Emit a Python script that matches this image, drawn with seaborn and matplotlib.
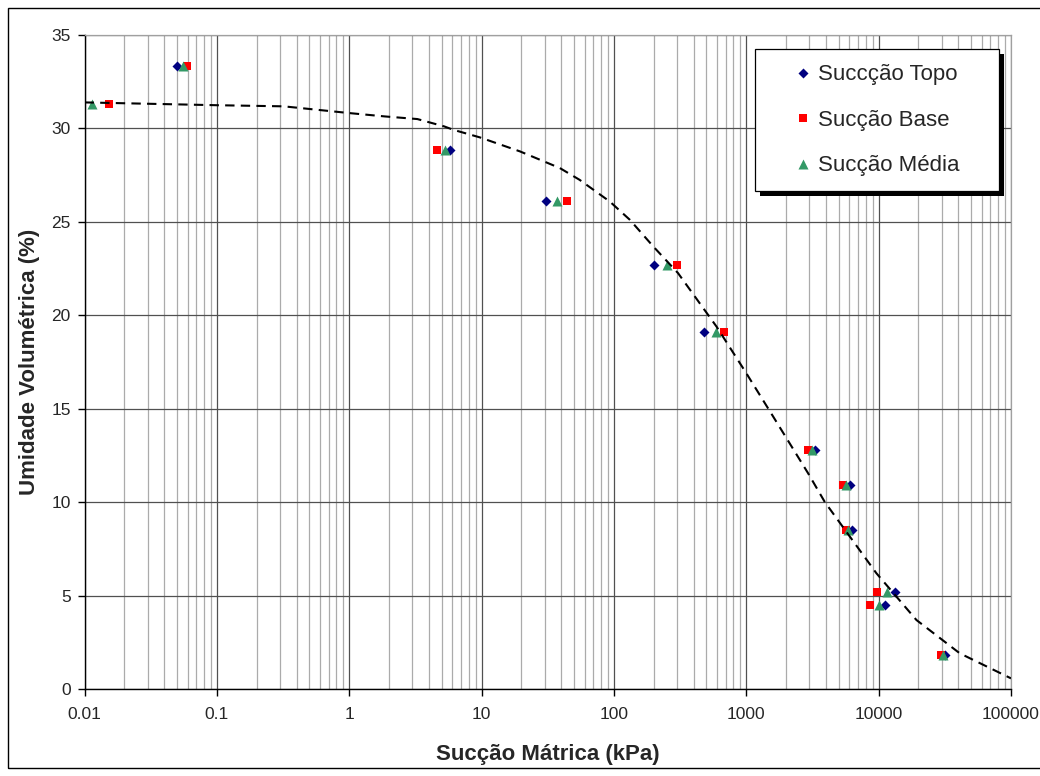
"""Curva de retenção: umidade volumétrica x sucção mátrica."""

import matplotlib.pyplot as plt
import matplotlib.ticker as mticker
import numpy as np
import pandas as pd
import seaborn as sns
from matplotlib.collections import PathCollection
from matplotlib.legend_handler import HandlerPathCollection
from matplotlib.patches import Rectangle
from matplotlib.transforms import IdentityTransform


# Valores.
umidade = [31.3, 33.3, 28.8, 26.1, 22.7, 19.1, 12.8, 10.9, 8.5, 5.2, 4.5, 1.8]
succao_topo = [np.nan, 0.0502, 5.8, 30.4, 200, 480, 3290, 6050, 6240, 13250, 11100, 32000]
succao_base = [0.0152, 0.0591, 4.6, 43.9, 302, 676, 2930, 5380, 5660, 9800, 8670, 29400]
succao_media = [0.0114, 0.0557, 5.3, 37.2, 252, 589, 3160, 5710, 5880, 11650, 10030, 30700]

# Curva ajustada (tracejada).
curva_succao = [0.01, 0.1, 0.32, 1.0, 1.86, 3.27, 5.2, 6.15, 9.7, 19.5, 39, 55, 93, 132,
                198, 305, 596, 1000, 1596, 2930, 3920, 9620, 19300, 41000, 100000]
curva_umidade = [31.37, 31.22, 31.16, 30.80, 30.62, 30.48, 30.09, 29.90, 29.50, 28.75,
                 27.86, 27.23, 26.07, 25.09, 23.67, 22.24, 19.38, 16.89, 14.57, 11.54,
                 10.00, 6.19, 3.69, 1.91, 0.57]

x_ticks = [0.01, 0.1, 1, 10, 100, 1000, 10000, 100000]
y_ticks = [0, 5, 10, 15, 20, 25, 30, 35]

sns.set_style("white")
plt.rcParams["font.family"] = ["Liberation Sans", "DejaVu Sans"]

fig, ax = plt.subplots(figsize=(10.4, 7.76), dpi=100)
fig.subplots_adjust(left=0.0813, right=0.9721, bottom=0.1121, top=0.9555)
ax.set_xscale("log")

topo = pd.DataFrame({"succao": succao_topo, "umidade": umidade}).dropna()
base = pd.DataFrame({"succao": succao_base, "umidade": umidade})
media = pd.DataFrame({"succao": succao_media, "umidade": umidade})
curva = pd.DataFrame({"succao": curva_succao, "umidade": curva_umidade})

sns.scatterplot(data=topo, x="succao", y="umidade", marker="D", s=26, color="#000080",
                linewidth=0, label="Succção Topo", ax=ax, zorder=3)
sns.scatterplot(data=base, x="succao", y="umidade", marker="s", s=36, color="#FF0000",
                linewidth=0, label="Sucção Base", ax=ax, zorder=3)
sns.scatterplot(data=media, x="succao", y="umidade", marker="^", s=52, color="#339966",
                linewidth=0, label="Sucção Média", ax=ax, zorder=3)
sns.lineplot(data=curva, x="succao", y="umidade", color="black", linewidth=1.5,
             linestyle=(0, (4.5, 3)), sort=False, estimator=None, legend=False,
             ax=ax, zorder=4)

# Eixos e grade.
ax.set_xlim(0.01, 100000)
ax.set_ylim(0, 35)
ax.xaxis.set_major_locator(mticker.FixedLocator(x_ticks))
ax.xaxis.set_major_formatter(mticker.FuncFormatter(lambda v, _: f"{v:g}"))
ax.xaxis.set_minor_locator(mticker.LogLocator(base=10, subs=np.arange(2, 10), numticks=20))
ax.xaxis.set_minor_formatter(mticker.NullFormatter())
ax.set_yticks(y_ticks)

ax.grid(which="major", axis="both", color="#505050", linewidth=0.9)
ax.grid(which="minor", axis="x", color="#ABABAB", linewidth=0.9)
ax.set_axisbelow(True)

for side in ["left", "bottom"]:
    ax.spines[side].set_color("black")
    ax.spines[side].set_linewidth(1.0)
for side in ["top", "right"]:
    ax.spines[side].set_color("#A0A0A0")
    ax.spines[side].set_linewidth(0.9)

ax.tick_params(axis="both", which="major", direction="out", length=5, width=1,
               color="black", labelsize=12.5, bottom=True, left=True)
ax.tick_params(axis="x", which="major", pad=8)
ax.tick_params(axis="y", which="major", pad=5)
ax.tick_params(axis="x", which="minor", length=0)

ax.set_xlabel("Sucção Mátrica (kPa)", fontsize=16, fontweight="bold", labelpad=16)
ax.set_ylabel("Umidade Volumétrica (%)", fontsize=16, fontweight="bold", labelpad=8)

# Legenda com sombra preta.
handles, labels = ax.get_legend_handles_labels()
leg = ax.legend(handles, labels, loc="upper left",
                bbox_to_anchor=(0.7237, 0.0, 0.2634, 0.9774), mode="expand",
                borderaxespad=0, borderpad=0.68, labelspacing=1.1, handlelength=1.84,
                handletextpad=0.3, fontsize=16, fancybox=False, framealpha=1,
                edgecolor="black", scatteryoffsets=[0.5],
                handler_map={PathCollection: HandlerPathCollection(xpad=1.16)})
leg.get_frame().set_linewidth(0.9)

fig.canvas.draw()
bb = leg.get_frame().get_window_extent()
ax.add_artist(Rectangle((bb.x0 + 5, bb.y0 - 5), bb.width, bb.height,
                        transform=IdentityTransform(), facecolor="black",
                        edgecolor="none", zorder=leg.get_zorder() - 0.1))

# Moldura do gráfico.
fig.add_artist(Rectangle((8 / 1040, 8 / 776), 1.0, 760 / 776, transform=fig.transFigure,
                         fill=False, edgecolor="black", linewidth=1.0))

fig.savefig("out.png", dpi=100)
